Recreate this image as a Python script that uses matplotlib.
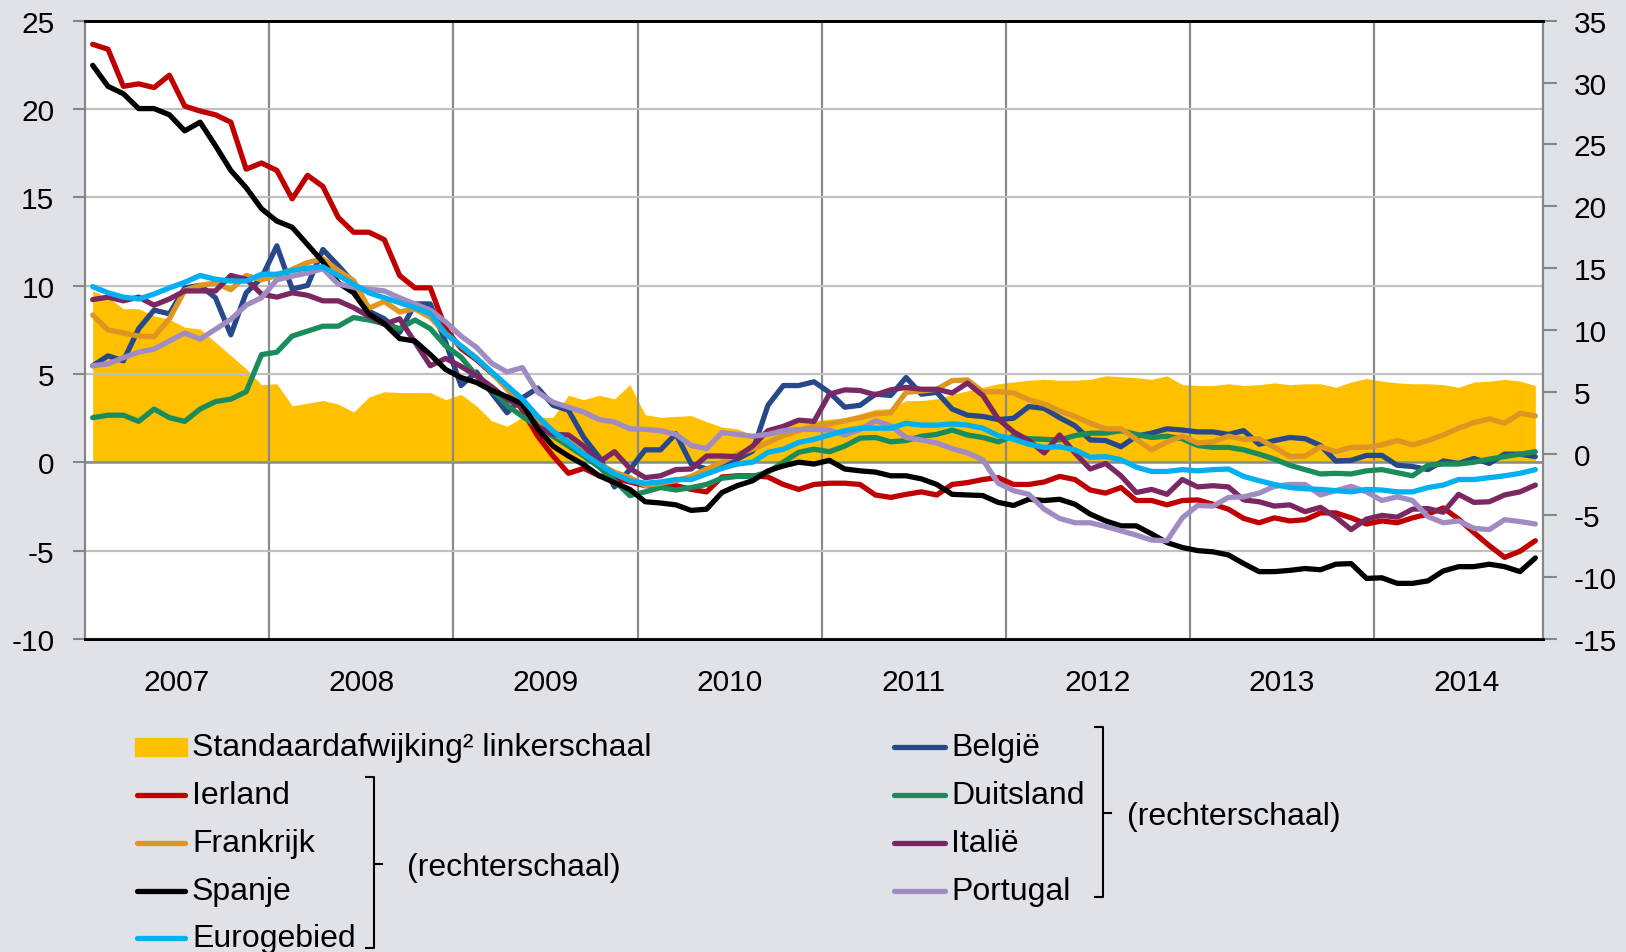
import matplotlib
matplotlib.use("Agg")
import matplotlib.pyplot as plt
from matplotlib.lines import Line2D
from matplotlib.patches import Rectangle

plt.rcParams['font.family'] = ['Liberation Sans', 'DejaVu Sans']
plt.rcParams['axes.unicode_minus'] = False

# monthly data, Jan 2007 - Nov 2014
years = ['2007', '2008', '2009', '2010', '2011', '2012', '2013', '2014']

# left scale
standaardafwijking = [
    9.7, 9.35, 8.7, 8.7, 8.3, 8.1, 7.65, 7.55, 6.8, 6.05, 5.3, 4.4,
    4.45, 3.2, 3.35, 3.5, 3.3, 2.85, 3.7, 4.0, 3.95, 3.95, 3.95, 3.55,
    3.85, 3.2, 2.35, 2.05, 2.55, 2.55, 2.55, 3.8, 3.55, 3.8, 3.6, 4.4,
    2.7, 2.55, 2.6, 2.65, 2.3, 2.0, 1.9, 1.55, 1.9, 2.1, 2.35, 2.35,
    2.45, 2.5, 2.75, 3.0, 3.05, 3.5, 3.5, 3.6, 3.85, 4.05, 4.25, 4.45,
    4.55, 4.65, 4.7, 4.65, 4.65, 4.7, 4.9, 4.85, 4.8, 4.7, 4.9, 4.4,
    4.35, 4.35, 4.45, 4.35, 4.4, 4.5, 4.4, 4.45, 4.45, 4.25, 4.55, 4.75,
    4.6, 4.5, 4.45, 4.45, 4.4, 4.25, 4.55, 4.6, 4.7, 4.6, 4.35]

# right scale
belgie = [
    7.1, 7.9, 7.5, 10.1, 11.6, 11.3, 13.4, 13.6, 12.6, 9.6, 13.0, 14.2,
    16.8, 13.3, 13.6, 16.5, 15.2, 13.8, 11.5, 10.9, 9.8, 12.1, 12.1, 9.0,
    5.5, 6.6, 4.9, 3.3, 4.5, 5.3, 3.9, 3.5, 1.3, -0.3, -2.7, -1.3,
    0.3, 0.3, 1.6, -0.85, -1.25, -1.05, -0.45, 0.2, 3.9, 5.5, 5.5, 5.8,
    4.95, 3.75, 3.9, 4.8, 4.7, 6.15, 4.8, 4.95, 3.6, 3.1, 3.0, 2.75,
    2.85, 3.8, 3.65, 2.9, 2.25, 1.1, 1.05, 0.55, 1.4, 1.65, 2.0, 1.9,
    1.75, 1.75, 1.55, 1.85, 0.75, 1.05, 1.3, 1.2, 0.65, -0.6, -0.55, -0.15,
    -0.15, -0.95, -1.05, -1.3, -0.6, -0.8, -0.4, -0.8, -0.05, -0.05, -0.25]

ierland = [
    33.1, 32.7, 29.7, 29.9, 29.6, 30.6, 28.1, 27.7, 27.4, 26.8, 23.0, 23.5,
    22.9, 20.6, 22.5, 21.6, 19.1, 17.9, 17.9, 17.3, 14.4, 13.4, 13.4, 10.1,
    8.5, 7.6, 6.5, 5.4, 3.5, 1.4, -0.2, -1.6, -1.2, -1.8, -2.0, -2.3,
    -2.6, -2.6, -2.6, -2.9, -3.1, -1.9, -1.8, -1.8, -1.9, -2.5, -2.9, -2.5,
    -2.4, -2.4, -2.5, -3.35, -3.55, -3.3, -3.1, -3.35, -2.5, -2.35, -2.1, -1.95,
    -2.5, -2.5, -2.3, -1.85, -2.1, -2.95, -3.2, -2.75, -3.8, -3.8, -4.15, -3.8,
    -3.75, -4.1, -4.5, -5.25, -5.6, -5.2, -5.45, -5.35, -4.8, -4.8, -5.2, -5.7,
    -5.45, -5.6, -5.2, -4.9, -4.4, -5.3, -6.4, -7.45, -8.4, -7.9, -7.05]

duitsland = [
    2.9, 3.1, 3.1, 2.6, 3.6, 2.9, 2.6, 3.6, 4.2, 4.4, 5.0, 8.0,
    8.2, 9.5, 9.9, 10.3, 10.3, 11.0, 10.8, 10.5, 10.1, 10.8, 10.1, 8.7,
    7.8, 6.3, 5.2, 3.9, 3.0, 2.2, 1.4, 0.6, -0.2, -1.1, -2.2, -3.4,
    -3.1, -2.75, -2.95, -2.75, -2.5, -2.0, -1.85, -1.85, -1.5, -0.7, 0.1, 0.35,
    0.15, 0.6, 1.25, 1.3, 0.95, 1.05, 1.4, 1.55, 1.9, 1.5, 1.3, 0.95,
    1.4, 1.2, 1.15, 1.1, 1.45, 1.65, 1.65, 1.85, 1.55, 1.3, 1.4, 1.2,
    0.65, 0.5, 0.5, 0.3, -0.05, -0.45, -0.95, -1.3, -1.65, -1.6, -1.65, -1.4,
    -1.3, -1.55, -1.8, -0.95, -0.85, -0.85, -0.7, -0.45, -0.25, -0.05, 0.15]

frankrijk = [
    11.2, 10.0, 9.75, 9.5, 9.45, 10.9, 13.2, 13.6, 13.8, 13.25, 14.4, 14.05,
    14.4, 14.9, 15.45, 15.75, 14.8, 14.0, 11.75, 12.3, 11.45, 11.7, 11.0, 9.7,
    8.7, 7.75, 6.55, 5.2, 4.1, 2.65, 1.7, 0.9, 0.1, -0.85, -1.5, -1.95,
    -2.6, -2.4, -2.2, -1.85, -1.25, -0.7, -0.05, 0.35, 0.9, 1.45, 1.85, 2.25,
    2.4, 2.65, 2.9, 3.2, 3.3, 4.95, 5.05, 5.2, 5.9, 5.95, 5.0, 5.0,
    4.9, 4.35, 4.0, 3.45, 3.0, 2.45, 2.0, 2.0, 1.15, 0.3, 0.95, 1.4,
    0.85, 0.95, 1.4, 1.15, 1.2, 0.5, -0.25, -0.2, 0.55, 0.15, 0.5, 0.5,
    0.7, 1.05, 0.7, 1.05, 1.5, 2.05, 2.5, 2.8, 2.45, 3.25, 3.05]

italie = [
    12.45, 12.65, 12.35, 12.65, 12.0, 12.5, 13.15, 13.15, 13.15, 14.4, 14.1, 12.9,
    12.65, 13.0, 12.8, 12.35, 12.35, 11.8, 11.1, 10.45, 10.9, 9.0, 7.1, 7.7,
    7.05, 6.3, 5.4, 4.4, 3.7, 2.2, 1.55, 1.5, 0.6, -0.7, 0.15, -1.2,
    -1.95, -1.8, -1.3, -1.25, -0.2, -0.2, -0.25, 0.6, 1.85, 2.2, 2.7, 2.6,
    4.8, 5.15, 5.1, 4.75, 5.15, 5.35, 5.2, 5.2, 4.9, 5.7, 4.7, 2.8,
    1.75, 1.05, 0.05, 1.5, 0.05, -1.25, -0.8, -1.8, -3.15, -2.9, -3.3, -2.1,
    -2.7, -2.6, -2.7, -3.75, -3.9, -4.25, -4.15, -4.7, -4.35, -5.15, -6.15, -5.3,
    -5.0, -5.15, -4.5, -4.45, -4.75, -3.3, -3.95, -3.9, -3.35, -3.1, -2.55]

spanje = [
    31.4, 29.7, 29.1, 27.9, 27.9, 27.4, 26.1, 26.8, 24.9, 22.9, 21.5, 19.8,
    18.8, 18.3, 16.9, 15.5, 13.8, 13.0, 11.3, 10.5, 9.3, 9.1, 8.0, 6.8,
    6.15, 5.75, 5.1, 4.6, 4.0, 2.0, 0.6, -0.2, -0.9, -1.8, -2.35, -2.9,
    -3.9, -4.0, -4.15, -4.6, -4.5, -3.15, -2.6, -2.2, -1.4, -1.0, -0.7, -0.85,
    -0.55, -1.25, -1.4, -1.5, -1.8, -1.8, -2.05, -2.5, -3.3, -3.35, -3.4, -3.95,
    -4.2, -3.7, -3.8, -3.7, -4.1, -4.9, -5.45, -5.85, -5.85, -6.5, -7.2, -7.6,
    -7.85, -7.95, -8.2, -8.9, -9.55, -9.55, -9.45, -9.3, -9.4, -8.95, -8.9, -10.1,
    -10.05, -10.5, -10.5, -10.3, -9.5, -9.15, -9.15, -8.95, -9.15, -9.55, -8.45]

portugal = [
    7.1, 7.25, 7.75, 8.2, 8.45, 9.1, 9.75, 9.25, 10.05, 10.85, 12.0, 12.6,
    14.05, 14.35, 14.6, 14.95, 13.7, 13.45, 13.3, 13.15, 12.6, 12.1, 11.6, 10.65,
    9.5, 8.6, 7.3, 6.6, 6.95, 4.95, 4.15, 3.75, 3.35, 2.75, 2.55, 2.0,
    1.95, 1.85, 1.55, 0.65, 0.4, 1.7, 1.55, 1.4, 1.55, 1.85, 1.95, 1.95,
    1.9, 1.5, 1.95, 2.65, 2.25, 1.3, 1.1, 0.85, 0.4, 0.05, -0.5, -2.4,
    -3.0, -3.3, -4.5, -5.25, -5.6, -5.6, -5.9, -6.25, -6.6, -7.0, -7.05, -5.2,
    -4.2, -4.25, -3.55, -3.5, -3.2, -2.65, -2.5, -2.5, -3.35, -3.0, -2.65, -3.1,
    -3.8, -3.5, -3.8, -5.1, -5.6, -5.45, -6.05, -6.15, -5.35, -5.5, -5.7]

eurogebied = [
    13.5, 13.0, 12.65, 12.5, 12.9, 13.4, 13.85, 14.4, 14.1, 13.95, 13.95, 14.5,
    14.5, 14.8, 15.0, 15.1, 14.4, 13.7, 13.0, 12.6, 12.2, 11.8, 11.3, 9.7,
    8.7, 7.7, 6.6, 5.5, 4.4, 3.0, 1.8, 0.9, -0.05, -0.85, -1.65, -2.2,
    -2.4, -2.3, -2.1, -2.1, -1.65, -1.2, -0.85, -0.7, 0.1, 0.35, 0.9, 1.15,
    1.5, 1.85, 2.05, 2.05, 2.05, 2.45, 2.3, 2.3, 2.4, 2.3, 2.05, 1.45,
    1.15, 0.75, 0.5, 0.55, 0.3, -0.3, -0.25, -0.5, -1.1, -1.45, -1.45, -1.3,
    -1.4, -1.3, -1.25, -1.85, -2.2, -2.5, -2.75, -2.85, -2.9, -3.0, -3.1, -2.9,
    -2.95, -3.1, -3.1, -2.75, -2.55, -2.1, -2.1, -1.95, -1.8, -1.6, -1.3]

# Excel series order (later ones drawn on top)
series = [
    ('België', belgie, '#27498c'),
    ('Ierland', ierland, '#c00000'),
    ('Duitsland', duitsland, '#1a8c5b'),
    ('Frankrijk', frankrijk, '#de9521'),
    ('Italië', italie, '#7b2862'),
    ('Spanje', spanje, '#000000'),
    ('Portugal', portugal, '#a08cc2'),
    ('Eurogebied', eurogebied, '#00b0f0'),
]
colors = {name: c for name, _, c in series}
GOLD = '#ffc000'
BG = '#dfe3e8'

W, H = 1626, 953
fig = plt.figure(figsize=(W / 100, H / 100), dpi=100, facecolor=BG)
ax = fig.add_axes([85 / W, 1 - 640 / H, (1543 - 85) / W, (640 - 21.8) / H])
ax.set_facecolor('white')

x = list(range(len(standaardafwijking)))
ax.fill_between(x, 0, standaardafwijking, color=GOLD, lw=0, zorder=1)
ax.set_xlim(-0.5, len(x) - 0.5)
ax.set_ylim(-10, 25)
ax.set_yticks(range(-10, 30, 5))
ax.set_xticks([5.5 + 12 * k for k in range(len(years))], years)
ax.set_xticks([11.5 + 12 * k for k in range(len(years) - 1)], minor=True)
ax.set_axisbelow(False)
ax.grid(axis='y', which='major', color='#c0c0c0', lw=1.6)
ax.grid(axis='x', which='minor', color='#8a8a8a', lw=1.6)
ax.axhline(0, color='#8a8a8a', lw=1.8, zorder=2.6)
ax.tick_params(axis='x', which='both', length=0, pad=21, labelsize=21.5)
ax.tick_params(axis='y', direction='out', length=9, width=1.5, color='#868686',
               labelsize=21.5, pad=13)

ax2 = ax.twinx()
ax2.set_ylim(-15, 35)
ax2.set_yticks(range(-15, 40, 5))
ax2.tick_params(axis='y', direction='out', length=10, width=1.5, color='#868686',
                labelsize=21.5, pad=12)
for name, vals, c in series:
    ax2.plot(x, vals, color=c, lw=3.8, solid_joinstyle='round', solid_capstyle='round')

for a in (ax, ax2):
    a.spines['top'].set_color('black')
    a.spines['top'].set_linewidth(2)
    a.spines['bottom'].set_color('black')
    a.spines['bottom'].set_linewidth(2)
    a.spines['left'].set_color('#868686')
    a.spines['left'].set_linewidth(1.5)
    a.spines['right'].set_color('#868686')
    a.spines['right'].set_linewidth(1.5)


# legend, laid out by hand in pixel coordinates (origin top-left)
def fx(px):
    return px / W


def fy(py):
    return 1 - py / H


FS = 23
fig.add_artist(Rectangle((fx(135), fy(757)), 52 / W, 18 / H, color=GOLD,
                         transform=fig.transFigure))
fig.text(fx(192), fy(748), 'Standaardafwijking² linkerschaal', va='center', fontsize=FS)

left_col = ['Ierland', 'Frankrijk', 'Spanje', 'Eurogebied']
right_col = ['België', 'Duitsland', 'Italië', 'Portugal']
for name, yy in zip(left_col, [796, 844, 892, 939]):
    fig.add_artist(Line2D([fx(137), fx(185)], [fy(yy), fy(yy)], color=colors[name],
                          lw=3.8, solid_capstyle='round'))
    fig.text(fx(192), fy(yy), name, va='center', fontsize=FS)
for name, yy in zip(right_col, [748, 796, 844, 892]):
    fig.add_artist(Line2D([fx(894), fx(945)], [fy(yy), fy(yy)], color=colors[name],
                          lw=3.8, solid_capstyle='round'))
    fig.text(fx(951), fy(yy), name, va='center', fontsize=FS)


def bracket(xv, top, bottom, mid):
    fig.add_artist(Line2D([fx(xv - 8), fx(xv), fx(xv), fx(xv - 8)],
                          [fy(top), fy(top), fy(bottom), fy(bottom)], color='black', lw=1.5))
    fig.add_artist(Line2D([fx(xv), fx(xv + 8)], [fy(mid), fy(mid)], color='black', lw=1.5))


bracket(374, 778, 949, 865)
fig.text(fx(407), fy(868), '(rechterschaal)', va='center', fontsize=FS)
bracket(1103, 728, 898, 814)
fig.text(fx(1127), fy(817), '(rechterschaal)', va='center', fontsize=FS)

fig.savefig('out.png', dpi=100, facecolor=BG)
